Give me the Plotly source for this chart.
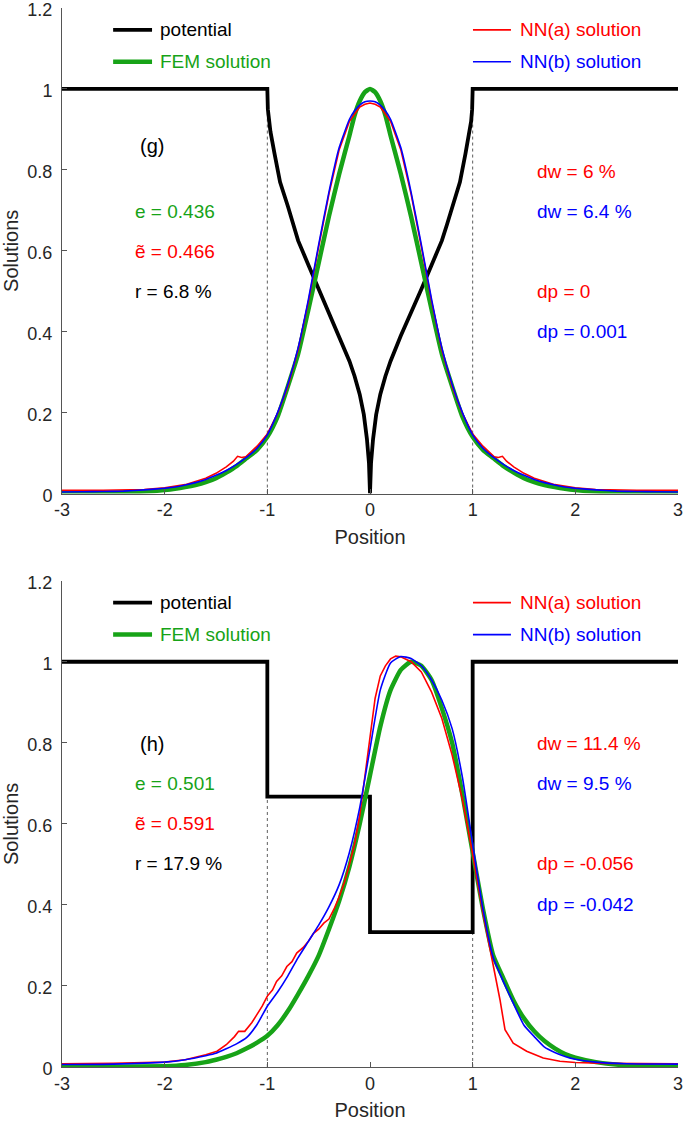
import plotly.graph_objects as go

# ---------------- data : panel (g) ----------------
POT_G_X = [-3, -1, -0.995, -0.985, -0.97, -0.93, -0.876, -0.8, -0.75, -0.7, -0.6, -0.5, -0.4, -0.3, -0.2, -0.15, -0.1, -0.06,
           -0.03, -0.01, 0, 0.01, 0.03, 0.06, 0.1, 0.15, 0.2, 0.3, 0.4, 0.5, 0.6, 0.7, 0.75, 0.8, 0.876, 0.93, 0.97, 0.985,
           0.995, 1, 3]
POT_G_Y = [1, 1, 0.95, 0.92, 0.895, 0.84, 0.77, 0.71, 0.665, 0.625, 0.565, 0.505, 0.445, 0.39, 0.327, 0.29, 0.245, 0.195,
           0.135, 0.075, 0, 0.075, 0.135, 0.195, 0.245, 0.29, 0.327, 0.39, 0.445, 0.505, 0.565, 0.625, 0.665, 0.71, 0.77,
           0.84, 0.895, 0.92, 0.95, 1, 1]

X_G = [-3, -2.8, -2.6, -2.4, -2.2, -2.0, -1.9, -1.8, -1.7, -1.6, -1.5, -1.4, -1.3, -1.2, -1.1, -1.0, -0.9, -0.8, -0.7, -0.6,
       -0.5, -0.4, -0.3, -0.2, -0.15, -0.1, -0.05, 0, 0.05, 0.1, 0.15, 0.2, 0.3, 0.4, 0.5, 0.6, 0.7, 0.8, 0.9, 1.0, 1.1, 1.2,
       1.3, 1.4, 1.5, 1.6, 1.7, 1.8, 1.9, 2.0, 2.2, 2.4, 2.6, 2.8, 3]
FEM_G = [0.0005, 0.001, 0.0015, 0.003, 0.005, 0.009, 0.012, 0.016, 0.021, 0.028, 0.038, 0.052, 0.068, 0.088, 0.108, 0.14,
         0.19, 0.265, 0.345, 0.455, 0.57, 0.685, 0.79, 0.885, 0.935, 0.97, 0.992, 1.0, 0.992, 0.97, 0.935, 0.885, 0.79,
         0.685, 0.57, 0.455, 0.345, 0.265, 0.19, 0.14, 0.108, 0.088, 0.068, 0.052, 0.038, 0.028, 0.021, 0.016, 0.012,
         0.009, 0.005, 0.003, 0.0015, 0.001, 0.0005]
NNB_G = [0.004, 0.0045, 0.005, 0.006, 0.009, 0.013, 0.016, 0.021, 0.027, 0.035, 0.045, 0.057, 0.072, 0.09, 0.112, 0.145,
         0.2, 0.27, 0.36, 0.48, 0.615, 0.745, 0.855, 0.925, 0.946, 0.96, 0.968, 0.97, 0.968, 0.96, 0.946, 0.925, 0.855,
         0.745, 0.615, 0.48, 0.36, 0.27, 0.2, 0.145, 0.112, 0.09, 0.072, 0.057, 0.045, 0.035, 0.027, 0.021, 0.016, 0.013,
         0.009, 0.006, 0.005, 0.0045, 0.004]

X_GA = [-3, -2.6, -2.2, -2.0, -1.8, -1.6, -1.5, -1.4, -1.33, -1.29, -1.25, -1.21, -1.1, -1.0, -0.9, -0.8, -0.7, -0.6, -0.5,
        -0.4, -0.3, -0.2, -0.1, -0.05, 0, 0.05, 0.1, 0.2, 0.3, 0.4, 0.5, 0.6, 0.7, 0.8, 0.9, 1.0, 1.1, 1.21, 1.25, 1.29,
        1.33, 1.4, 1.5, 1.6, 1.8, 2.0, 2.2, 2.6, 3]
NNA_G = [0.008, 0.008, 0.01, 0.014, 0.022, 0.038, 0.05, 0.066, 0.08, 0.092, 0.089, 0.091, 0.117, 0.147, 0.198, 0.265, 0.355,
         0.475, 0.61, 0.74, 0.85, 0.92, 0.955, 0.962, 0.965, 0.962, 0.955, 0.92, 0.85, 0.74, 0.61, 0.475, 0.355, 0.265,
         0.198, 0.147, 0.117, 0.091, 0.089, 0.092, 0.08, 0.066, 0.05, 0.038, 0.022, 0.014, 0.01, 0.008, 0.008]

# ---------------- data : panel (h) ----------------
POT_H_X = [-3, -1, -1, 0, 0, 1, 1, 3]
POT_H_Y = [1, 1, 0.667, 0.667, 0.333, 0.333, 1, 1]

X_H = [-3, -2.5, -2.0, -1.8, -1.6, -1.5, -1.4, -1.3, -1.2, -1.1, -1.0, -0.9, -0.8, -0.7, -0.6, -0.5, -0.4, -0.3, -0.2, -0.1,
       0, 0.1, 0.2, 0.3, 0.4, 0.5, 0.6, 0.7, 0.8, 0.9, 1.0, 1.1, 1.2, 1.3, 1.4, 1.5, 1.6, 1.7, 1.8, 1.9, 2.0, 2.2, 2.5, 3]
FEM_H = [0.0, 0.0005, 0.002, 0.005, 0.012, 0.018, 0.025, 0.034, 0.046, 0.06, 0.077, 0.103, 0.138, 0.18, 0.225, 0.275,
         0.34, 0.41, 0.495, 0.6, 0.72, 0.84, 0.93, 0.98, 1.0, 0.99, 0.955, 0.885, 0.8, 0.672, 0.53, 0.39, 0.275, 0.218,
         0.163, 0.12, 0.088, 0.064, 0.046, 0.032, 0.023, 0.012, 0.004, 0.0005]
NNB_H = [0.006, 0.007, 0.012, 0.018, 0.028, 0.034, 0.045, 0.057, 0.073, 0.105, 0.15, 0.185, 0.225, 0.27, 0.31, 0.35, 0.395,
         0.45, 0.53, 0.64, 0.785, 0.93, 0.997, 1.013, 1.008, 0.99, 0.955, 0.905, 0.835, 0.715, 0.55, 0.39, 0.27, 0.21, 0.155,
         0.103, 0.075, 0.049, 0.036, 0.026, 0.019, 0.012, 0.008, 0.007]

X_HA = [-3, -2.5, -2.0, -1.8, -1.6, -1.49, -1.4, -1.32, -1.28, -1.22, -1.15, -1.1, -1.05, -1.0, -0.95, -0.91, -0.86, -0.81,
        -0.76, -0.714, -0.65, -0.6, -0.55, -0.5, -0.45, -0.4, -0.35, -0.3, -0.25, -0.2, -0.15, -0.1, -0.05, 0, 0.05, 0.1,
        0.15, 0.2, 0.25, 0.3, 0.4, 0.5, 0.6, 0.7, 0.8, 0.9, 1.0, 1.1, 1.17, 1.2, 1.266, 1.315, 1.395, 1.526, 1.687, 1.85,
        2.0, 2.3, 3]
NNA_H = [0.008, 0.009, 0.012, 0.018, 0.03, 0.039, 0.055, 0.075, 0.088, 0.088, 0.11, 0.13, 0.15, 0.175, 0.19, 0.211, 0.225,
         0.248, 0.26, 0.281, 0.295, 0.31, 0.33, 0.34, 0.355, 0.365, 0.39, 0.42, 0.455, 0.5, 0.55, 0.62, 0.72, 0.82, 0.91,
         0.965, 0.99, 1.007, 1.014, 1.012, 1.0, 0.975, 0.925, 0.86, 0.77, 0.66, 0.525, 0.38, 0.29, 0.248, 0.166, 0.092,
         0.059, 0.039, 0.022, 0.014, 0.011, 0.009, 0.008]

WELL_EDGES = [-1, 1]
X_TICKS = [-3, -2, -1, 0, 1, 2, 3]
X_TICK_TEXT = ["-3", "-2", "-1", "0", "1", "2", "3"]
Y_TICKS = [0, 0.2, 0.4, 0.6, 0.8, 1.0, 1.2]
Y_TICK_TEXT = ["0", "0.2", "0.4", "0.6", "0.8", "1", "1.2"]

GREEN = "#17a317"
RED = "#ff0000"
BLUE = "#0000ff"
LEGEND = [("potential", "black", 3.8), ("FEM solution", GREEN, 4.5),
          ("NN(a) solution", RED, 1.6), ("NN(b) solution", BLUE, 1.6)]
LEFT_TEXT_G = [("(g)", "black"), ("e = 0.436", GREEN), ("ẽ = 0.466", RED), ("r = 6.8 %", "black")]
RIGHT_TEXT_G = [("dw = 6 %", RED), ("dw = 6.4 %", BLUE), ("dp = 0", RED), ("dp = 0.001", BLUE)]
LEFT_TEXT_H = [("(h)", "black"), ("e = 0.501", GREEN), ("ẽ = 0.591", RED), ("r = 17.9 %", "black")]
RIGHT_TEXT_H = [("dw = 11.4 %", RED), ("dw = 9.5 %", BLUE), ("dp = -0.056", RED), ("dp = -0.042", BLUE)]

FONT = "Liberation Sans, Arial, sans-serif"
TXT = 19

fig = go.Figure()


def line(xs, ys, color, width, ax, shape="linear", smooth=None):
    ln = dict(color=color, width=width, shape=shape)
    if smooth is not None:
        ln["smoothing"] = smooth
    fig.add_trace(go.Scatter(x=xs, y=ys, mode="lines", line=ln, xaxis="x" + ax, yaxis="y" + ax,
                             showlegend=False, hoverinfo="skip"))


panels = [
    ("", POT_G_X, POT_G_Y, X_G, FEM_G, X_GA, NNA_G, X_G, NNB_G, LEFT_TEXT_G, RIGHT_TEXT_G,
     [0.858, 0.697, 0.598, 0.499], [0.796, 0.697, 0.499, 0.40]),
    ("2", POT_H_X, POT_H_Y, X_H, FEM_H, X_HA, NNA_H, X_H, NNB_H, LEFT_TEXT_H, RIGHT_TEXT_H,
     [0.798, 0.699, 0.60, 0.501], [0.798, 0.699, 0.501, 0.402]),
]

shapes = []
annotations = []
for ax, px, py, fx, fy, ax_, ay, bx, by, ltxt, rtxt, ly, ry in panels:
    xref = "x" + ax
    yref = "y" + ax
    for xe in WELL_EDGES:
        shapes.append(dict(type="line", xref=xref, yref=yref, x0=xe, x1=xe, y0=0, y1=1,
                           line=dict(color="#333333", width=0.8, dash="dot"), layer="below"))
    line(px, py, "black", 3.8, ax)
    line(fx, fy, GREEN, 4.5, ax, "spline", 0.5)
    line(ax_, ay, RED, 1.6, ax, "linear")
    line(bx, by, BLUE, 1.6, ax, "spline", 0.5)

    # legend samples
    leg_pos = [(-2.502, -2.123, -2.064, 1.146), (-2.502, -2.123, -2.064, 1.067),
               (1.003, 1.373, 1.441, 1.146), (1.003, 1.373, 1.441, 1.067)]
    for (name, col, w), (x0, x1, xt, yy) in zip(LEGEND, leg_pos):
        shapes.append(dict(type="line", xref=xref, yref=yref, x0=x0, x1=x1, y0=yy, y1=yy,
                           line=dict(color=col, width=w)))
        annotations.append(dict(x=xt, y=yy, xref=xref, yref=yref, text=name, showarrow=False,
                                xanchor="left", yanchor="middle", font=dict(family=FONT, size=TXT, color=col)))
    for i, ((t, c), yy) in enumerate(zip(ltxt, ly)):
        if i == 0:
            annotations.append(dict(x=-2.123, y=yy, xref=xref, yref=yref, text=t, showarrow=False,
                                    xanchor="center", yanchor="middle", font=dict(family=FONT, size=20, color=c)))
        else:
            annotations.append(dict(x=-2.308, y=yy, xref=xref, yref=yref, text=t, showarrow=False,
                                    xanchor="left", yanchor="middle", font=dict(family=FONT, size=TXT, color=c)))
    for (t, c), yy in zip(rtxt, ry):
        annotations.append(dict(x=1.607, y=yy, xref=xref, yref=yref, text=t, showarrow=False,
                                xanchor="left", yanchor="middle", font=dict(family=FONT, size=TXT, color=c)))

axis_common = dict(showgrid=False, zeroline=False, showline=True, linecolor="#555555", linewidth=1,
                   ticks="inside", ticklen=5, tickcolor="#555555", tickwidth=1, automargin=False,
                   ticklabeloverflow="allow",
                   tickfont=dict(family=FONT, size=18, color="#262626"))
title_font = dict(family=FONT, size=20, color="#262626")

fig.update_layout(
    width=685, height=1125,
    margin=dict(l=62, r=7, t=8, b=58),
    plot_bgcolor="white", paper_bgcolor="white",
    showlegend=False,
    xaxis=dict(domain=[0, 1], anchor="y", range=[-3, 3], tickvals=X_TICKS, ticktext=X_TICK_TEXT,
               title=dict(text="Position", font=title_font, standoff=10), **axis_common),
    yaxis=dict(domain=[0.5415, 1], anchor="x", range=[0, 1.2], tickvals=Y_TICKS, ticktext=Y_TICK_TEXT,
               ticklabelstandoff=5, ticklabelshift=2,
               title=dict(text="Solutions", font=title_font, standoff=4), **axis_common),
    xaxis2=dict(domain=[0, 1], anchor="y2", range=[-3, 3], tickvals=X_TICKS, ticktext=X_TICK_TEXT,
                title=dict(text="Position", font=title_font, standoff=10), **axis_common),
    yaxis2=dict(domain=[0, 0.4592], anchor="x2", range=[0, 1.2], tickvals=Y_TICKS, ticktext=Y_TICK_TEXT,
                ticklabelstandoff=5, ticklabelshift=2,
                title=dict(text="Solutions", font=title_font, standoff=4), **axis_common),
    shapes=shapes,
    annotations=annotations,
)

fig.write_html("out.html", config={"displayModeBar": False},
               post_script="document.body.style.margin='0px';document.body.style.overflow='hidden';")
